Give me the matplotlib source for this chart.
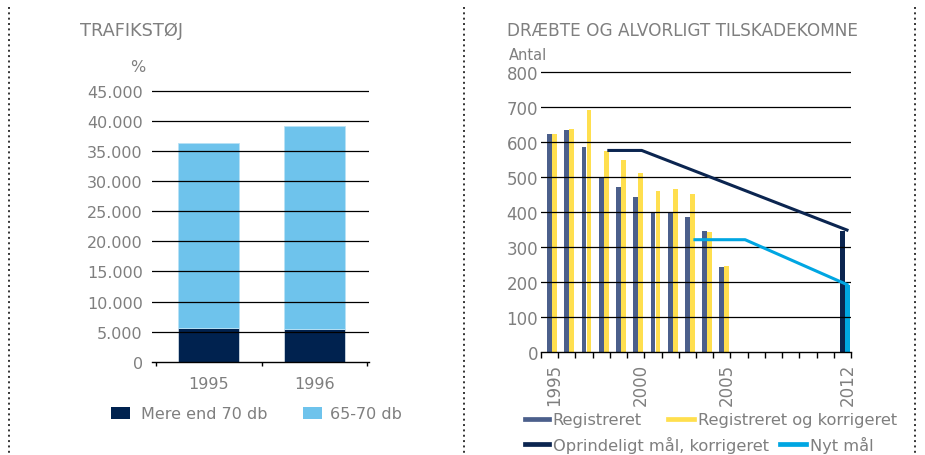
import matplotlib
matplotlib.use('Agg')
import matplotlib.pyplot as plt
import numpy as np
from matplotlib.lines import Line2D
from matplotlib.patches import Patch

W, H = 925, 456
nan = np.nan

# ---------------- data: left chart (Trafikstøj) ----------------
noise_categories = ['1995', '1996']
over_70_db = [5550, 5500]
db_65_70 = [30800, 33680]
noise_yticks = [0, 5000, 10000, 15000, 20000, 25000, 30000, 35000, 40000, 45000]
noise_yticklabels = ['0', '5.000', '10.000', '15.000', '20.000', '25.000',
                     '30.000', '35.000', '40.000', '45.000']

# ---------------- data: right chart (Dræbte og alvorligt tilskadekomne) ----------------
years = list(range(1995, 2013))
registreret = [621, 634, 585, 497, 470, 441, 400, 400, 386, 344, 243,
               nan, nan, nan, nan, nan, nan, nan]
registreret_korr = [622, 637, 691, 574, 548, 511, 459, 465, 450, 342, 244,
                    nan, nan, nan, nan, nan, nan, nan]
maal_year = 2012
oprindeligt_maal_bar = 346
nyt_maal_bar = 190
oprindeligt_line_years = [1998, 2000, 2012]
oprindeligt_line_vals = [575, 575, 346]
nyt_line_years = [2003, 2006, 2012]
nyt_line_vals = [320, 320, 190]
year_labels = [1995, 2000, 2005, 2012]
casualty_yticks = [0, 100, 200, 300, 400, 500, 600, 700, 800]

# ---------------- style ----------------
GREY = '#7f7f7f'
DARK = '#00224f'
LIGHT = '#6ec3ec'
REG = '#4b5f8b'
YEL = '#ffdf4e'
NAVY = '#0b2550'
CYAN = '#00a6e2'
FONT = 'DejaVu Sans'
plt.rcParams['font.family'] = [FONT]

fig = plt.figure(figsize=(W / 100, H / 100), dpi=100)


def axes_px(x0, y_top, x1, y_bottom):
    return fig.add_axes([x0 / W, 1 - y_bottom / H, (x1 - x0) / W, (y_bottom - y_top) / H])


def style_axes(ax):
    for s in ['top', 'left', 'right']:
        ax.spines[s].set_visible(False)
    ax.spines['bottom'].set_color('black')
    ax.spines['bottom'].set_linewidth(1.0)
    ax.spines['bottom'].set_zorder(6)
    ax.set_facecolor('none')


# ---------------- left chart ----------------
axL = axes_px(152, 90.2, 369, 362.7)
style_axes(axL)
xL = np.arange(len(noise_categories))
b1 = axL.bar(xL, over_70_db, width=0.57, color=DARK, zorder=2,
             edgecolor='#dfe8f0', linewidth=0.5)
b2 = axL.bar(xL, db_65_70, width=0.57, bottom=over_70_db, color=LIGHT, zorder=2,
             edgecolor='#b9e2f6', linewidth=0.6)
axL.set_xlim(-0.535, 1.516)
axL.set_ylim(0, 45300)
for v in noise_yticks[1:]:
    axL.axhline(v, color='black', lw=0.9, zorder=3)
axL.set_yticks(noise_yticks)
axL.set_yticklabels(noise_yticklabels)
axL.tick_params(axis='y', length=0, pad=6.7, labelsize=11.5, labelcolor=GREY)
axL.set_xticks([-0.5, 0.5, 1.5])
axL.set_xticklabels(['', '', ''])
axL.set_xticks(xL, minor=True)
axL.set_xticklabels(noise_categories, minor=True)
axL.tick_params(axis='x', which='major', length=3, width=1, color='black', direction='out')
axL.tick_params(axis='x', which='minor', length=0, pad=10.5, labelsize=11.5, labelcolor=GREY)

fig.text(80 / W, 1 - 36 / H, 'TRAFIKSTØJ', fontsize=12.8, color=GREY, va='baseline', ha='left')
fig.text(145 / W, 1 - 72 / H, '%', fontsize=11.5, color=GREY, va='baseline', ha='right')

# ---------------- right chart ----------------
axR = axes_px(541, 70.6, 851, 352.7)
style_axes(axR)
xi = np.arange(len(years))
bw = 0.28
off = 0.29
axR.bar(xi, registreret, width=bw, color=REG, zorder=2)
axR.bar(xi + off, registreret_korr, width=bw, color=YEL, zorder=2)
mi = years.index(maal_year)
axR.bar([mi], [oprindeligt_maal_bar], width=bw, color=NAVY, zorder=2)
axR.bar([mi + off], [nyt_maal_bar], width=bw, color=CYAN, zorder=2)
for v in casualty_yticks[1:]:
    axR.axhline(v, color='black', lw=0.9, zorder=3)
lo = 0.35
axR.plot([years.index(y) + lo for y in oprindeligt_line_years], oprindeligt_line_vals,
         color=NAVY, lw=2.2, zorder=5, solid_capstyle='butt')
axR.plot([years.index(y) + lo for y in nyt_line_years], nyt_line_vals,
         color=CYAN, lw=2.2, zorder=5, solid_capstyle='butt')
axR.set_xlim(-0.5, 17.5)
axR.set_ylim(0, 806)
axR.set_yticks(casualty_yticks)
axR.set_yticklabels([str(v) for v in casualty_yticks])
axR.tick_params(axis='y', length=0, pad=2, labelsize=12, labelcolor=GREY)
axR.set_xticks(np.arange(-0.5, 18, 1.0))
axR.set_xticklabels([''] * 19)
axR.set_xticks([years.index(y) + 0.29 for y in year_labels], minor=True)
axR.set_xticklabels([str(y) for y in year_labels], minor=True, rotation=90)
axR.tick_params(axis='x', which='major', length=4, width=1, color='black', direction='out')
axR.tick_params(axis='x', which='minor', length=0, pad=8, labelsize=12, labelcolor=GREY)

fig.text(507 / W, 1 - 36 / H, 'DRÆBTE OG ALVORLIGT TILSKADEKOMNE', fontsize=12.2, color=GREY,
         va='baseline', ha='left')
fig.text(509 / W, 1 - 60 / H, 'Antal', fontsize=10.5, color=GREY, va='baseline', ha='left')


# ---------------- legends ----------------
def add_legend(handle, label, x_px, y_px, fs, hl, hh=0.7, pad=0.6):
    fig.legend(handles=[handle], labels=[label], loc='center left',
               bbox_to_anchor=(x_px / W, 1 - y_px / H), frameon=False,
               borderpad=0, borderaxespad=0, handlelength=hl, handleheight=hh,
               handletextpad=pad, fontsize=fs, labelcolor=GREY)


add_legend(Patch(facecolor=DARK), 'Mere end 70 db', 111, 415, 11.5, 1.2, 0.73, 0.65)
add_legend(Patch(facecolor=LIGHT), '65-70 db', 303, 415, 11.5, 1.2, 0.73, 0.5)
add_legend(Line2D([], [], color=REG, lw=3.4), 'Registreret', 525, 421, 11.7, 1.45, 0.7, 0.25)
add_legend(Line2D([], [], color=YEL, lw=3.4), 'Registreret og korrigeret', 668, 421, 11.7, 1.6, 0.7, 0.25)
add_legend(Line2D([], [], color=NAVY, lw=3.4), 'Oprindeligt mål, korrigeret', 525, 445, 11.7, 1.45, 0.7, 0.25)
add_legend(Line2D([], [], color=CYAN, lw=3.4), 'Nyt mål', 780, 445, 11.7, 1.6, 0.7, 0.25)

# ---------------- dotted separators ----------------
for xs in [9.3, 463.7, 914.5]:
    fig.add_artist(Line2D([xs / W, xs / W], [1 - 8 / H, 0], transform=fig.transFigure,
                          color='#333333', lw=1.4, linestyle=(0, (1, 1.75))))

fig.savefig('out.png', dpi=100)
